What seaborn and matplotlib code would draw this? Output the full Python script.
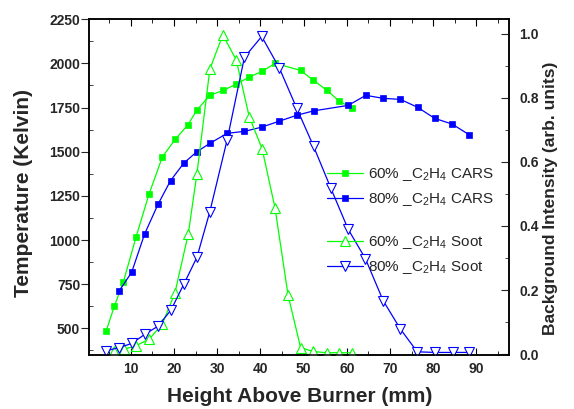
import matplotlib
matplotlib.use("Agg")
import matplotlib.pyplot as plt
import seaborn as sns
import pandas as pd
from matplotlib.ticker import MultipleLocator

# ---- data ----
x_cars60 = [4.3, 6.2, 8.3, 11.2, 14.2, 17.3, 20.3, 23.2, 25.3, 28.3, 31.4, 34.3, 37.3, 40.4, 43.4,
            49.3, 52.2, 55.3, 58.2, 61.3]
t_cars60 = [485, 625, 764, 1015, 1258, 1470, 1571, 1651, 1736, 1819, 1847, 1881, 1921, 1955, 2000,
            1960, 1905, 1849, 1787, 1745]

x_cars80 = [7.3, 10.2, 13.2, 16.3, 19.2, 22.3, 25.3, 28.3, 32.3, 36.3, 40.3, 44.4, 48.4, 52.3,
            60.3, 64.4, 68.4, 72.4, 76.4, 80.3, 84.4, 88.3]
t_cars80 = [711, 817, 1034, 1202, 1336, 1436, 1500, 1547, 1604, 1615, 1639, 1673, 1706, 1731,
            1762, 1819, 1802, 1796, 1751, 1689, 1656, 1596]

x_soot60 = [6.2, 8.5, 11.2, 14.3, 17.3, 20.2, 23.3, 25.3, 28.3, 31.3, 34.4, 37.4, 40.4, 43.4,
            46.4, 49.3, 52.2, 55.3, 58.2, 61.3]
i_soot60 = [0.010, 0.015, 0.026, 0.047, 0.094, 0.19, 0.375, 0.5625, 0.89, 0.997, 0.919, 0.742,
            0.641, 0.455, 0.184, 0.020, 0.008, 0.004, 0.004, 0.004]

x_soot80 = [4.2, 7.3, 10.2, 13.4, 16.3, 19.3, 22.3, 25.3, 28.3, 32.3, 36.3, 40.3, 44.4, 48.4,
            52.3, 56.3, 60.3, 64.3, 68.4, 72.4, 76.3, 80.4, 84.5, 88.3]
i_soot80 = [0.010, 0.020, 0.033, 0.063, 0.087, 0.1375, 0.219, 0.302, 0.445, 0.669, 0.927, 0.992,
            0.893, 0.768, 0.649, 0.518, 0.39, 0.298, 0.167, 0.078, 0.007, 0.005, 0.005, 0.005]

labels = [r"60% _C$_2$H$_4$ CARS", r"80% _C$_2$H$_4$ CARS",
          r"60% _C$_2$H$_4$ Soot", r"80% _C$_2$H$_4$ Soot"]

GREEN = "#00ff00"
BLUE = "#0000ff"

sns.set_style("ticks")
plt.rcParams["font.family"] = ["Liberation Sans", "DejaVu Sans"]
plt.rcParams["mathtext.fontset"] = "custom"
plt.rcParams["mathtext.rm"] = "Liberation Sans"
plt.rcParams["mathtext.it"] = "Liberation Sans"

fig = plt.figure(figsize=(5.74, 4.09), dpi=100)
ax = fig.add_axes([89.3 / 574, 1 - 355 / 409, (509.3 - 89.3) / 574, (355 - 19.2) / 409])
ax2 = ax.twinx()

sq_kw = dict(marker="s", markersize=4.8, linewidth=0.9, markeredgewidth=0.5)
tri_kw = dict(markersize=7.4, linewidth=0.9, markeredgewidth=0.8, markerfacecolor="white")

sns.lineplot(x=x_cars60, y=t_cars60, ax=ax, color=GREEN, markeredgecolor=GREEN,
             markerfacecolor=GREEN, legend=False, **sq_kw)
h1 = ax.lines[-1]
sns.lineplot(x=x_cars80, y=t_cars80, ax=ax, color=BLUE, markeredgecolor=BLUE,
             markerfacecolor=BLUE, legend=False, **sq_kw)
h2 = ax.lines[-1]
sns.lineplot(x=x_soot60, y=i_soot60, ax=ax2, color=GREEN, marker="^",
             markeredgecolor=GREEN, legend=False, **tri_kw)
h3 = ax2.lines[-1]
sns.lineplot(x=x_soot80, y=i_soot80, ax=ax2, color=BLUE, marker="v",
             markeredgecolor=BLUE, legend=False, **tri_kw)
h4 = ax2.lines[-1]

ax.set_xlim(0.4, 97.6)
ax.set_ylim(349, 2250)
ax2.set_ylim(-0.003, 1.046)

ax.xaxis.set_major_locator(MultipleLocator(10))
ax.xaxis.set_minor_locator(MultipleLocator(5))
ax.yaxis.set_major_locator(MultipleLocator(250))
ax.yaxis.set_minor_locator(MultipleLocator(125))
ax2.yaxis.set_major_locator(MultipleLocator(0.2))
ax2.yaxis.set_minor_locator(MultipleLocator(0.1))
ax.set_yticks([500, 750, 1000, 1250, 1500, 1750, 2000, 2250])
ax2.yaxis.set_major_formatter(matplotlib.ticker.FormatStrFormatter("%.1f"))

for a in (ax, ax2):
    for s in a.spines.values():
        s.set_visible(True)
        s.set_linewidth(1.1)
        s.set_color("black")

ax.tick_params(axis="x", which="both", direction="in", top=True, bottom=True,
               labelsize=10, pad=5, color="black")
ax.tick_params(axis="x", which="major", length=5)
ax.tick_params(axis="x", which="minor", length=3)
ax.tick_params(axis="y", which="major", direction="out", length=5.5, left=True, right=False,
               labelsize=10, pad=1)
ax.tick_params(axis="y", which="minor", direction="in", length=3, left=True, right=False)
ax2.tick_params(axis="y", which="major", direction="in", length=5.5, right=True, labelsize=10, pad=7)
ax2.tick_params(axis="y", which="minor", direction="in", length=3, right=True)

for lab in ax.get_xticklabels() + ax.get_yticklabels() + ax2.get_yticklabels():
    lab.set_fontweight("bold")

ax.set_xlabel("Height Above Burner (mm)", fontsize=15, fontweight="bold", labelpad=8)
ax.set_ylabel("Temperature (Kelvin)", fontsize=15, fontweight="bold")
ax2.set_ylabel("Background Intensity (arb. units)", fontsize=12.5, fontweight="bold")
ax.yaxis.set_label_coords(-0.134, 0.481)
ax2.yaxis.set_label_coords(1.08, 0.468)

leg_kw = dict(frameon=False, fontsize=11, handlelength=2.4, handletextpad=0.33,
              borderpad=0, borderaxespad=0, labelspacing=0.55, loc="upper left")
leg1 = fig.legend([h1, h2], labels[:2], bbox_to_anchor=(326.7 / 574, 1 - 166 / 409), **leg_kw)
leg2 = fig.legend([h3, h4], labels[2:], bbox_to_anchor=(326.7 / 574, 1 - 234 / 409), **leg_kw)

fig.savefig("out.png", dpi=100)
